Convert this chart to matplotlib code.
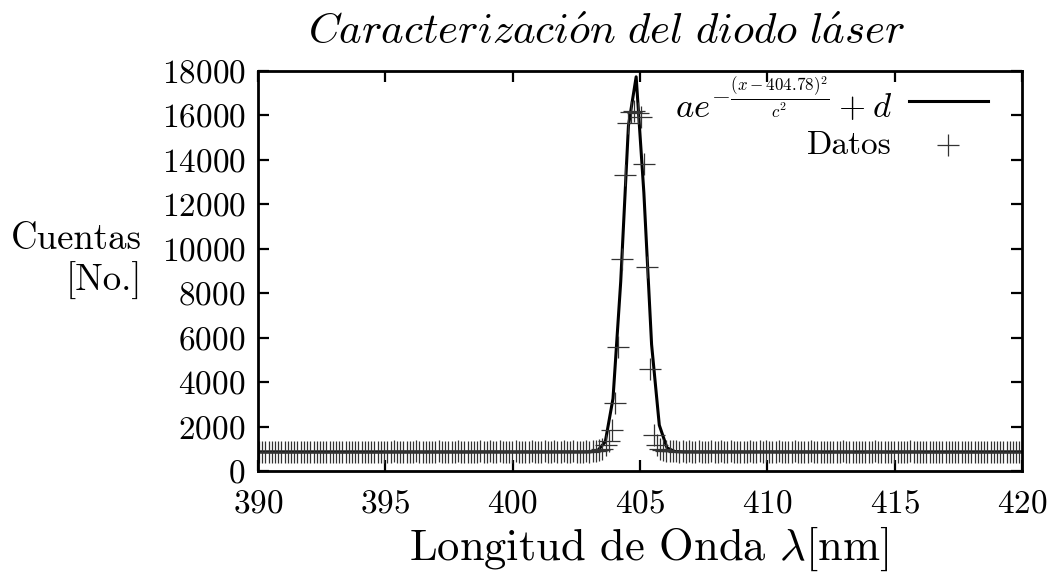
import numpy as np
import matplotlib
matplotlib.use("Agg")
import matplotlib.pyplot as plt
from matplotlib.lines import Line2D

plt.rcParams['font.family'] = ['cmr10', 'DejaVu Serif']
plt.rcParams['mathtext.fontset'] = 'cm'
plt.rcParams['axes.formatter.use_mathtext'] = True

# datos del espectrometro: longitud de onda = inicio + paso * i
lambda_start = 389.912
lambda_step = 0.126

counts_left = [
    842, 861, 835, 858, 873, 846, 852, 869, 838, 857, 848, 866,
    851, 834, 862, 875, 843, 856, 839, 864, 871, 847, 855, 838,
    866, 849, 872, 853, 841, 868, 857, 845, 876, 852, 863, 840,
    859, 874, 848, 862, 851, 869, 843, 878, 856, 864, 847, 871,
    853, 866, 881, 849, 860, 874, 845, 868, 857, 879, 851, 863,
    872, 848, 865, 883, 854, 869, 858, 876, 847, 866, 880, 855,
    861, 877, 850, 868, 884, 857, 871, 849, 866, 879, 858, 873,
    868, 855, 879, 862, 874, 851, 883, 866, 859, 877, 864, 872,
    881, 858, 869, 886, 863, 875, 868, 884, 872, 889,
]
counts_peak = [
    900, 940, 1000, 1170, 1360, 1845, 3074, 5567, 9540, 13320, 15650,
    16150, 16200, 16100, 15950, 13815, 9195, 4577, 1620, 1170, 1000, 930,
]
counts_right = [
    902, 886, 878, 891, 872, 884, 869, 887, 875, 862, 881, 868,
    876, 859, 884, 871, 865, 879, 857, 873, 882, 866, 871, 858,
    874, 863, 881, 868, 855, 877, 864, 886, 859, 872, 866, 880,
    857, 869, 875, 852, 878, 864, 871, 849, 866, 882, 861, 873,
    868, 854, 876, 863, 848, 871, 859, 880, 866, 852, 874, 861,
    849, 867, 873, 856, 862, 878, 845, 869, 858, 875, 851, 864,
    871, 857, 846, 866, 879, 853, 861, 874, 848, 868, 856, 872,
    859, 843, 865, 876, 851, 862, 847, 870, 857, 866, 844, 861,
    873, 852, 864, 848, 869, 858, 841, 867, 855, 871, 846, 862,
    854, 868, 849, 860,
]
counts = np.array(counts_left + counts_peak + counts_right)
wavelength = lambda_start + lambda_step * np.arange(len(counts))

# parametros del ajuste gaussiano
fit_a = 17100
fit_x0 = 404.78
fit_c = 0.6
fit_d = 860
x_fit = np.linspace(390, 420, 100)  # muestreo por defecto de gnuplot
y_fit = fit_a * np.exp(-(x_fit - fit_x0) ** 2 / fit_c ** 2) + fit_d

xticks = [390, 395, 400, 405, 410, 415, 420]
yticks = list(range(0, 18001, 2000))

fig = plt.figure(figsize=(10.57, 5.75), dpi=100)
ax = fig.add_axes([0.2441, 0.1809, 0.7228, 0.6956])

ax.plot(x_fit, y_fit, color='black', lw=2.2)
ax.plot(wavelength, counts, ls='none', marker='+', ms=16, mew=0.9,
        color='#333333', clip_on=True)

ax.set_xlim(390, 420)
ax.set_ylim(0, 18000)
ax.set_xticks(xticks)
ax.set_yticks(yticks)
ax.tick_params(direction='in', length=8, width=1.6, top=True, right=True,
               labelsize=24, pad=9)
ax.tick_params(axis='x', pad=13)
for s in ax.spines.values():
    s.set_linewidth(2.0)

fig.text(0.574, 0.942, r'$\mathit{Caracterizaci\acute{o}n\ del\ diodo\ l\acute{a}ser}$',
         ha='center', va='center', fontsize=31)
fig.text(0.614, 0.045, r'Longitud de Onda $\lambda$[nm]', ha='center',
         va='center', fontsize=32)
fig.text(0.134, 0.545, 'Cuentas\n[No.]', ha='right', va='center',
         multialignment='right', fontsize=26.5, linespacing=1.2)

# leyenda al estilo gnuplot
ax.text(0.83, 0.925, r'$ae^{-\frac{(x-404.78)^2}{c^2}}+d$', transform=ax.transAxes,
        ha='right', va='center', fontsize=25)
ax.add_line(Line2D([0.852, 0.955], [0.925, 0.925], transform=ax.transAxes,
                   color='black', lw=2.2))
ax.text(0.83, 0.815, 'Datos', transform=ax.transAxes, ha='right', va='center',
        fontsize=24)
ax.add_line(Line2D([0.903], [0.815], transform=ax.transAxes, ls='none',
                   marker='+', ms=16, mew=0.9, color='#333333'))

fig.savefig('out.png', dpi=100)
